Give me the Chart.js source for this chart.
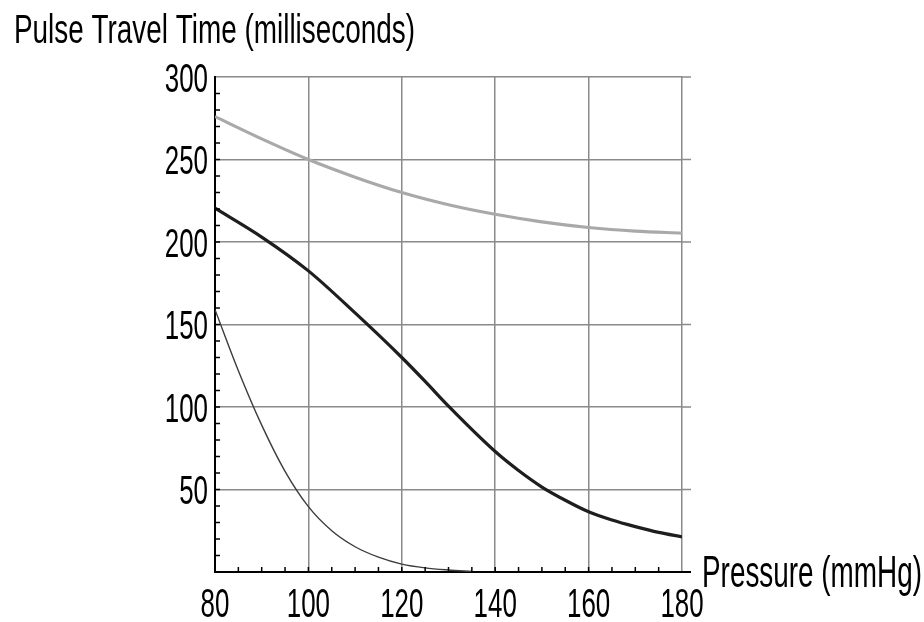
<!DOCTYPE html>
<html>
<head>
<meta charset="utf-8">
<script src="https://cdn.jsdelivr.net/npm/chart.js@4/dist/chart.umd.min.js"></script>
<style>
html,body{margin:0;padding:0;background:#fff;}
#c{display:block;}
</style>
</head>
<body>
<canvas id="c" width="924" height="622"></canvas>
<script>
// ---- data ----
const yTitle = "Pulse Travel Time (milliseconds)";
const xTitle = "Pressure (mmHg)";
const xTickLabels = [80, 100, 120, 140, 160, 180];
const yTickLabels = [50, 100, 150, 200, 250, 300];

const grayX = [80, 90, 100, 110, 120, 130, 140, 150, 160, 170, 180];
const grayY = [276, 262.5, 250, 239.3, 230, 222.6, 216.8, 212.2, 208.8, 206.6, 205.4];

const darkX = [80, 90, 100, 110, 120, 125, 130, 140, 145, 150, 155, 160, 165, 170, 175, 180];
const darkY = [220.5, 203, 182.5, 157, 130, 115.5, 100.5, 73, 61.5, 51.5, 43.5, 36.5, 31.5, 27.5, 24, 21.3];

const thinX = [80, 85, 90, 95, 100, 105, 110, 115, 120, 125, 130, 135];
const thinY = [159, 122, 89, 61, 39.6, 25, 15.3, 9, 4.8, 2.5, 1.2, 0.3];

const toPts = (xs, ys) => xs.map((x, i) => ({x: x, y: ys[i]}));

const FONT = "'Liberation Sans', Arial, sans-serif";

function drawScaledText(ctx, text, x, y, fontPx, targetW, align) {
  ctx.save();
  ctx.font = fontPx + "px " + FONT;
  const w = ctx.measureText(text).width;
  const sx = targetW / w;
  let left = x;
  if (align === 'right') left = x - targetW;
  else if (align === 'center') left = x - targetW / 2;
  ctx.translate(left, y);
  ctx.scale(sx, 1);
  ctx.textAlign = 'left';
  ctx.textBaseline = 'alphabetic';
  ctx.fillStyle = '#000';
  ctx.fillText(text, 0, 0);
  ctx.restore();
}

const decor = {
  id: 'decor',
  afterDraw(chart) {
    const ctx = chart.ctx;
    const xs = chart.scales.x, ys = chart.scales.y;
    const area = chart.chartArea;
    ctx.save();
    // gridline extensions past right edge
    ctx.strokeStyle = '#8a8a8a';
    ctx.lineWidth = 1.5;
    yTickLabels.forEach(v => {
      const py = ys.getPixelForValue(v);
      ctx.beginPath(); ctx.moveTo(area.right, py); ctx.lineTo(area.right + 9, py); ctx.stroke();
    });
    ctx.strokeStyle = '#000';
    ctx.lineWidth = 2;
    ctx.beginPath(); ctx.moveTo(area.right, area.bottom); ctx.lineTo(area.right + 9, area.bottom); ctx.stroke();
    // minor ticks (inward)
    ctx.lineWidth = 1.5;
    for (let v = 10; v < 300; v += 10) {
      const py = ys.getPixelForValue(v);
      ctx.beginPath(); ctx.moveTo(area.left, py); ctx.lineTo(area.left + 5, py); ctx.stroke();
    }
    for (let v = 85; v < 180; v += 5) {
      const px = xs.getPixelForValue(v);
      ctx.beginPath(); ctx.moveTo(px, area.bottom); ctx.lineTo(px, area.bottom - 5); ctx.stroke();
    }
    ctx.restore();
    // tick labels
    const tickFont = 40, digitW = 14.4;
    yTickLabels.forEach(v => {
      const s = String(v);
      drawScaledText(ctx, s, area.left - 7, ys.getPixelForValue(v) + 14.5, tickFont, digitW * s.length, 'right');
    });
    xTickLabels.forEach(v => {
      const s = String(v);
      drawScaledText(ctx, s, xs.getPixelForValue(v), area.bottom + 45, tickFont, digitW * s.length, 'center');
    });
    // axis titles
    drawScaledText(ctx, yTitle, 14, 43, 41, 401, 'left');
    drawScaledText(ctx, xTitle, area.right + 20, 587, 44, 220, 'left');
  }
};

new Chart(document.getElementById('c'), {
  type: 'line',
  data: {
    datasets: [
      { data: toPts(grayX, grayY), borderColor: '#a9a9a9', borderWidth: 3.2, pointRadius: 0, cubicInterpolationMode: 'monotone', fill: false },
      { data: toPts(darkX, darkY), borderColor: '#1e1e1e', borderWidth: 3.2, pointRadius: 0, cubicInterpolationMode: 'monotone', fill: false },
      { data: toPts(thinX, thinY), borderColor: '#3c3c3c', borderWidth: 1.4, pointRadius: 0, cubicInterpolationMode: 'monotone', fill: false }
    ]
  },
  options: {
    responsive: false,
    animation: false,
    devicePixelRatio: 1,
    layout: { padding: { left: 0, top: 77, right: 242, bottom: 0 } },
    plugins: { legend: { display: false }, tooltip: { enabled: false }, title: { display: false } },
    scales: {
      x: {
        type: 'linear', min: 80, max: 180,
        ticks: { display: false, stepSize: 20 },
        grid: { color: '#8a8a8a', lineWidth: 1.5, drawTicks: false },
        border: { display: true, color: '#000', width: 2 },
        afterFit: s => { s.height = 50; }
      },
      y: {
        type: 'linear', min: 0, max: 300,
        ticks: { display: false, stepSize: 50 },
        grid: { color: '#8a8a8a', lineWidth: 1.5, drawTicks: false },
        border: { display: true, color: '#000', width: 2 },
        afterFit: s => { s.width = 215; }
      }
    }
  },
  plugins: [decor]
});
</script>
</body>
</html>
